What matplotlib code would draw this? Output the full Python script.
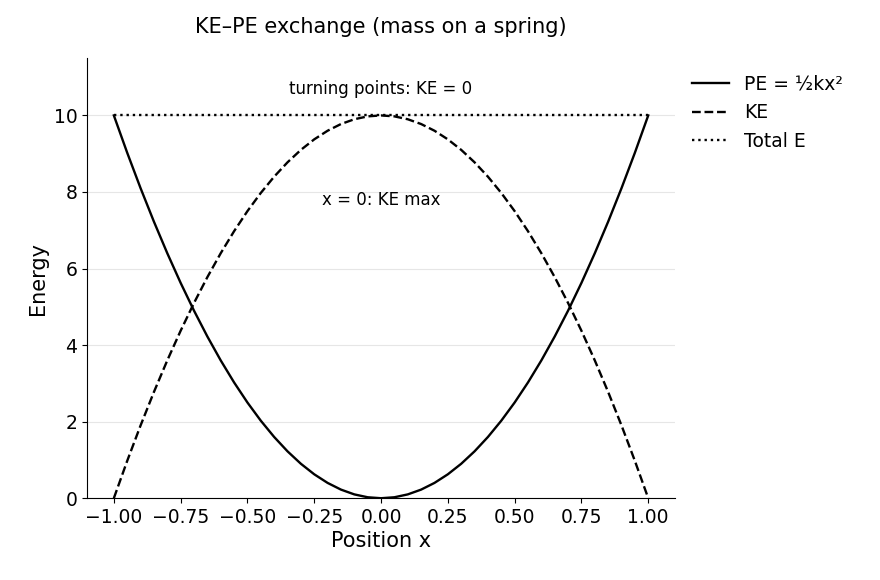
import matplotlib
matplotlib.use("Agg")
import matplotlib.pyplot as plt

position = [-1.00,-0.95,-0.90,-0.85,-0.80,-0.75,-0.70,-0.65,-0.60,-0.55,-0.50,-0.45,-0.40,-0.35,-0.30,-0.25,-0.20,-0.15,-0.10,-0.05,0.00,
            0.05,0.10,0.15,0.20,0.25,0.30,0.35,0.40,0.45,0.50,0.55,0.60,0.65,0.70,0.75,0.80,0.85,0.90,0.95,1.00]
pe = [10.0,9.025,8.1,7.225,6.4,5.625,4.9,4.225,3.6,3.025,2.5,2.025,1.6,1.225,0.9,0.625,0.4,0.225,0.1,0.025,0.0,
      0.025,0.1,0.225,0.4,0.625,0.9,1.225,1.6,2.025,2.5,3.025,3.6,4.225,4.9,5.625,6.4,7.225,8.1,9.025,10.0]
ke = [0.0,0.975,1.9,2.775,3.6,4.375,5.1,5.775,6.4,6.975,7.5,7.975,8.4,8.775,9.1,9.375,9.6,9.775,9.9,9.975,10.0,
      9.975,9.9,9.775,9.6,9.375,9.1,8.775,8.4,7.975,7.5,6.975,6.4,5.775,5.1,4.375,3.6,2.775,1.9,0.975,0.0]
total = [10.0]*len(position)

fig = plt.figure(figsize=(8.8, 5.8), dpi=100)
ax = fig.add_axes([0.099, 0.141, 0.668, 0.759])
ax.plot(position, pe, color="black", lw=1.7, ls="-", label="PE = ½kx²")
ax.plot(position, ke, color="black", lw=1.7, ls="--", label="KE")
ax.plot(position, total, color="black", lw=1.7, ls=":", label="Total E")
ax.set_xlim(-1.1, 1.1)
ax.set_ylim(0, 11.5)
ax.set_xticks([-1,-0.75,-0.5,-0.25,0,0.25,0.5,0.75,1])
ax.set_yticks([0,2,4,6,8,10])
ax.tick_params(labelsize=13.5)
ax.grid(axis="y", color="#e6e6e6", lw=0.8)
ax.set_axisbelow(True)
for s in ["top", "right"]:
    ax.spines[s].set_visible(False)
ax.set_xlabel("Position x", fontsize=15, labelpad=3)
ax.set_ylabel("Energy", fontsize=15)
ax.set_title("KE–PE exchange (mass on a spring)", fontsize=15, pad=18)
ax.text(0, 10.7, "turning points: KE = 0", ha="center", va="center", fontsize=12)
ax.text(0, 7.8, "x = 0: KE max", ha="center", va="center", fontsize=12)
ax.legend(loc="upper left", bbox_to_anchor=(1.0, 1.0), frameon=False, fontsize=13.5)
fig.savefig("out.png", dpi=100)
